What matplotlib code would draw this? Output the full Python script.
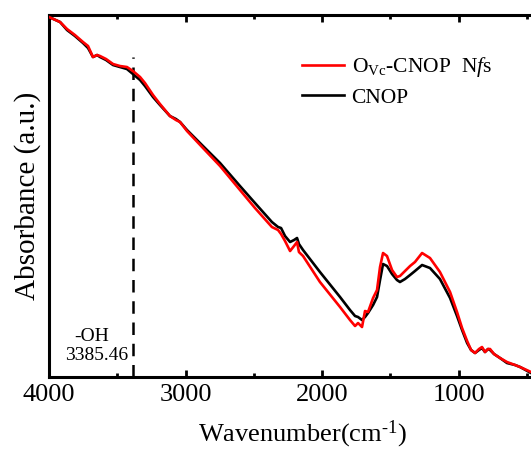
import matplotlib
matplotlib.use('Agg')
import matplotlib.pyplot as plt
from matplotlib.ticker import MultipleLocator, NullLocator

plt.rcParams['font.family'] = ['Liberation Serif', 'DejaVu Serif']
plt.rcParams['mathtext.fontset'] = 'custom'
plt.rcParams['mathtext.rm'] = 'Liberation Serif'
plt.rcParams['mathtext.it'] = 'Liberation Serif:italic'

# FTIR spectra (absorbance in arbitrary units)
wavenumber = [4000, 3919, 3868, 3810, 3751, 3714, 3678, 3648, 3626, 3582,
              3531, 3480, 3429, 3385, 3333, 3297, 3238, 3187, 3114, 3070,
              3040, 2989, 2872, 2747, 2601, 2491, 2367, 2322, 2300, 2271,
              2234, 2205, 2183, 2169, 2139, 2015, 1868, 1795, 1758, 1736,
              1707, 1685, 1663, 1626, 1597, 1575, 1553, 1524, 1487, 1451,
              1429, 1392, 1355, 1319, 1267, 1209, 1136, 1062, 1011, 974,
              937, 908, 879, 850, 828, 806, 784, 769, 740, 696,
              645, 586, 549, 469]
cnop = [360, 355, 347, 341, 334, 329, 320, 322, 320, 317,
        312, 310, 308, 303, 297, 291, 280, 272, 261, 258,
        255, 247, 231, 214, 191, 174, 155, 150, 149, 141,
        135, 137, 139, 133, 127, 105, 80, 67, 61, 60,
        57, 60, 64, 72, 80, 97, 113, 111, 103, 97,
        95, 98, 102, 106, 112, 109, 98, 79, 61, 47,
        34, 27, 24, 27, 29, 25, 28, 27, 23, 19,
        14, 12, 10, 4]
ovc_cnop = [360, 355, 348, 342, 335, 331, 320, 322, 321, 318,
            313, 311, 310, 306, 300, 294, 282, 273, 261, 257,
            255, 246, 229, 211, 187, 169, 150, 147, 143, 136,
            126, 131, 135, 125, 121, 95, 70, 57, 51, 54,
            50, 66, 65, 79, 87, 110, 124, 121, 107, 100,
            101, 106, 111, 115, 124, 119, 105, 85, 65, 49,
            36, 27, 24, 28, 30, 25, 28, 28, 23, 19,
            15, 12, 10, 5]
oh_peak = 3385.46

fig = plt.figure(figsize=(5.31, 4.5), dpi=100)
ax = fig.add_axes([0.0923, 0.1622, 0.9077, 0.8044])

ax.plot(wavenumber, ovc_cnop, color='#ff0000', linewidth=1.9,
        label=r'O$_{\mathrm{Vc}}$-CNOP  N$\mathit{f}$s', zorder=3)
ax.plot(wavenumber, cnop, color='black', linewidth=1.9, label='CNOP', zorder=2)

# -OH marker
ax.plot([oh_peak, oh_peak], [0, 320], color='black', linewidth=1.8,
        dashes=(5, 3.5), zorder=1)
ax.text(3685, 41, '-OH', ha='center', va='center', fontsize=14)
ax.text(3650, 22, '3385.46', ha='center', va='center', fontsize=14)

ax.set_xlim(4000, 469)
ax.set_ylim(0, 362)
ax.xaxis.set_major_locator(MultipleLocator(1000))
ax.xaxis.set_minor_locator(MultipleLocator(500))
ax.yaxis.set_major_locator(NullLocator())
ax.tick_params(axis='x', which='major', direction='in', length=5, width=2,
               top=True, labelsize=19, pad=5)
ax.tick_params(axis='x', which='minor', direction='in', length=3, width=2, top=True)
ax.spines['right'].set_visible(False)
for s in ['left', 'top', 'bottom']:
    ax.spines[s].set_linewidth(2.2)

ax.set_xlabel('Wavenumber(cm$^{\\mathrm{\u2010}1}$)', fontsize=19)
ax.xaxis.set_label_coords(0.525, -0.116)
ax.set_ylabel('Absorbance (a.u.)', fontsize=21, labelpad=6)

ax.legend(loc='upper left', bbox_to_anchor=(0.508, 0.913), frameon=False,
          fontsize=15.5, handlelength=1.95, handletextpad=0.33, labelspacing=0.4,
          borderaxespad=0)

fig.savefig('out.png', dpi=100)
